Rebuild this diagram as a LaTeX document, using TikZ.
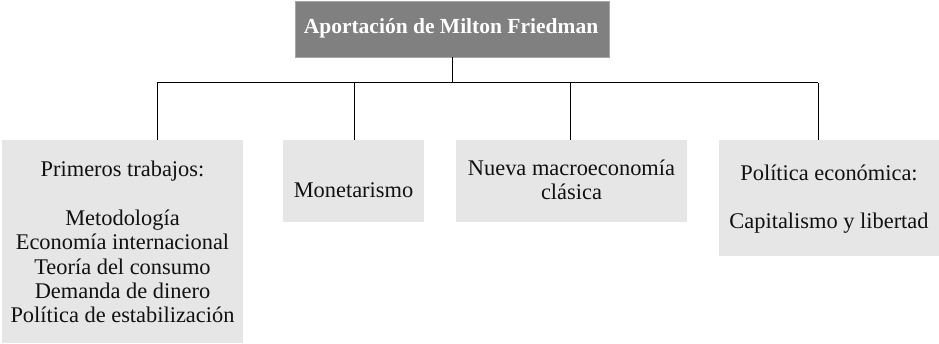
\documentclass[tikz,border=0pt]{standalone}
\usepackage{fontspec}
\setmainfont{Liberation Serif}
\definecolor{boxgray}{HTML}{E6E6E6}
\definecolor{topgray}{HTML}{808080}
\definecolor{ink}{HTML}{111111}
\tikzset{
  leaf/.style={draw=none, fill=boxgray, inner sep=0pt, anchor=north west},
  lbl/.style={align=center, inner sep=0pt, anchor=base, text=ink, font=\fontsize{22.4}{24.4}\selectfont},
  conn/.style={line width=1pt, draw=black}
}
\begin{document}
\begin{tikzpicture}[x=1pt,y=-1pt]
\useasboundingbox (0,0) rectangle (939,344);
% top box
\node[fill=topgray, draw=gray!70, inner sep=0pt, minimum width=314pt, minimum height=56pt] (top) at (452,29) {};
\node[anchor=base, inner sep=0pt, text=white, font=\fontsize{21.5}{24}\selectfont\bfseries] (toptxt) at (451,34) {Aportación de Milton Friedman};
% leaf boxes
\node[leaf, minimum width=241pt, minimum height=203pt] (b1) at (2,140) {};
\node[leaf, minimum width=141pt, minimum height=82pt] (b2) at (283,140) {};
\node[leaf, minimum width=231pt, minimum height=82pt] (b3) at (456,140) {};
\node[leaf, minimum width=220pt, minimum height=116pt] (b4) at (719,140) {};
% texts (anchor base = baseline of the last line)
\node[lbl] (t1) at (122.5,323) {Primeros trabajos:\\[24.4pt]Metodología\\Economía internacional\\Teoría del consumo\\Demanda de dinero\\Política de estabilización};
\node[lbl] (t2) at (353.5,197.7) {Monetarismo};
\node[lbl] (t3) at (571.5,200) {Nueva macroeconomía\\clásica};
\node[lbl] (t4) at (829,228.3) {Política económica:\\[23.2pt]Capitalismo y libertad};
% connectors
\coordinate (busL) at (157,83);
\coordinate (busR) at (818,83);
\coordinate (j2) at (354,83);
\coordinate (j3) at (570,83);
\draw[conn] (top.south) -- (top.south |- busL);
\draw[conn] (busL) -- (busR);
\draw[conn] (busL) -- (busL |- b1.north);
\draw[conn] (j2) -- (j2 |- b2.north);
\draw[conn] (j3) -- (j3 |- b3.north);
\draw[conn] (busR) -- (busR |- b4.north);
\end{tikzpicture}
\end{document}
